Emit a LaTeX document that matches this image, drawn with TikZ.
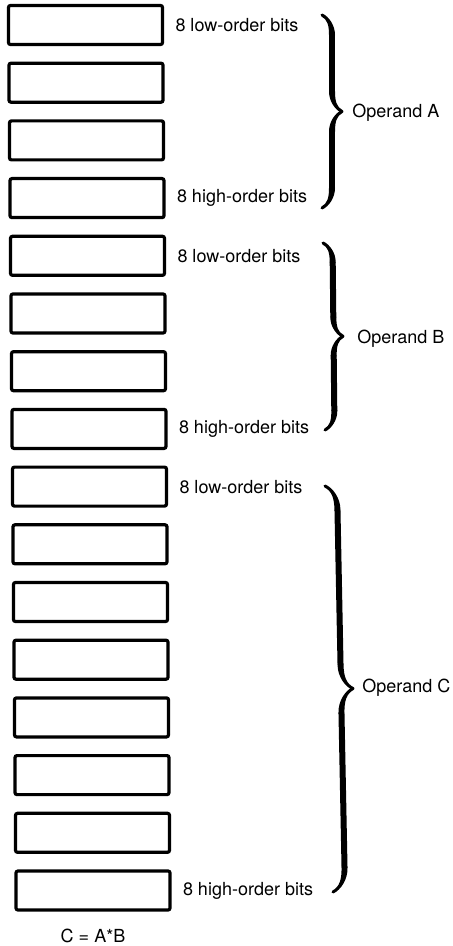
\documentclass[tikz,border=0pt]{standalone}
\usepackage{fontspec}
\setmainfont{TeX Gyre Heros}
\usetikzlibrary{positioning, decorations.pathreplacing, calligraphy}

\begin{document}
\begin{tikzpicture}[x=0.5pt, y=-0.5pt,
    cell/.style={draw, line width=1.6pt, rounded corners=1pt,
                 minimum width=77pt, minimum height=19.5pt, inner sep=0pt},
    bits/.style={font=\fontsize{9}{10.8}\selectfont, inner sep=0pt},
    opname/.style={font=\fontsize{9}{10.8}\selectfont, inner sep=0pt, anchor=west},
    curly/.style={decorate, line width=3pt,
                  decoration={calligraphic brace, amplitude=#1}},
  ]
    \useasboundingbox (0,0) rectangle (452,946);
    % sixteen byte cells, slightly skewed like the scan
    \foreach \i in {1,...,16}
      \node[cell] (c\i) at ({85.5+0.5*(\i-1)}, {25+57.7*(\i-1)}) {};
    \node[bits, right=5.5pt of c1]  {8 low-order bits};
    \node[bits, right=5.5pt of c4]  {8 high-order bits};
    \node[bits, right=5.5pt of c5]  {8 low-order bits};
    \node[bits, right=5.5pt of c8]  {8 high-order bits};
    \node[bits, right=5.5pt of c9]  {8 low-order bits};
    \node[bits, right=5.5pt of c16] {8 high-order bits};
    % brace ends
    \coordinate (aTop) at (322,15);  \coordinate (aBot) at (322,208);
    \coordinate (bTop) at (323,243); \coordinate (bBot) at (325,430);
    \coordinate (cTop) at (325,486); \coordinate (cBot) at (333,892);
    \draw[curly=10pt] (aTop) -- (aBot);
    \draw[curly=9.5pt] (bTop) -- (bBot);
    \draw[curly=12pt] (cTop) -- (cBot);
    \node[opname] (opA) at (352,113) {Operand A};
    \node[opname] (opB) at (357,339) {Operand B};
    \node[opname] (opC) at (362,688) {Operand C};
    \node[bits] (eq) at (93,936) {C = A*B};
\end{tikzpicture}
\end{document}
